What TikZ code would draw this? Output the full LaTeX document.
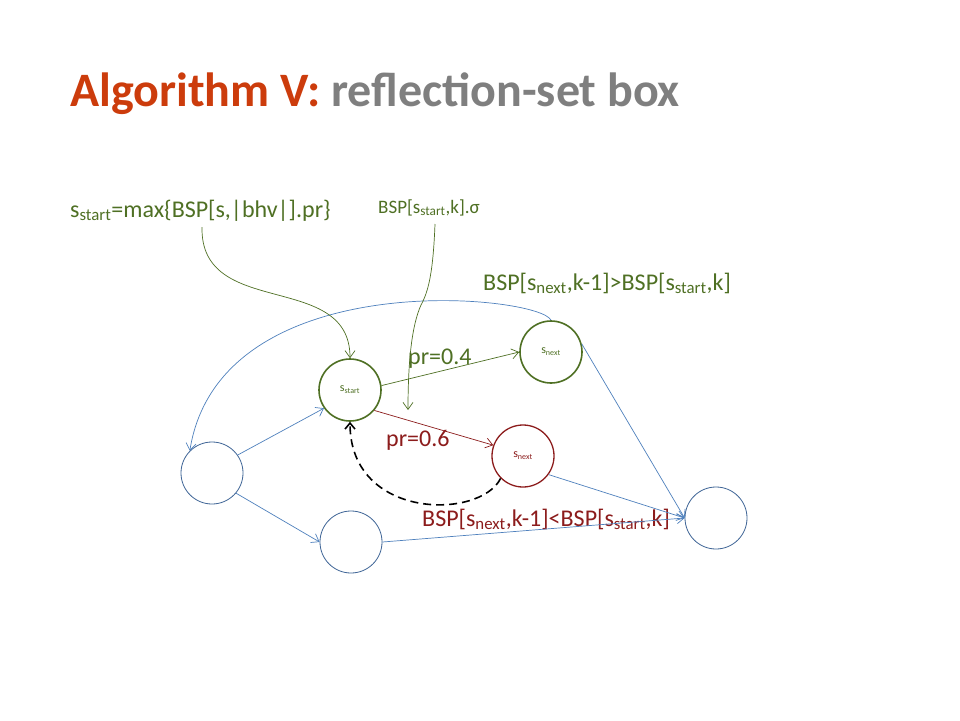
\documentclass[tikz,border=0pt]{standalone}
\usepackage{fontspec}
\setmainfont{Carlito}
\usetikzlibrary{arrows.meta}
\definecolor{ttlred}{RGB}{204,60,12}
\definecolor{ttlgray}{RGB}{127,127,127}
\definecolor{grn}{RGB}{79,112,36}
\definecolor{dred}{RGB}{140,28,28}
\definecolor{blu}{RGB}{79,129,189}
\definecolor{cblu}{RGB}{62,100,150}
\begin{document}
\begin{tikzpicture}[x=1pt,y=-1pt,
  st/.style={circle,draw,minimum size=62pt,inner sep=0pt,line width=0.8pt,font=\fontsize{12}{13}\selectfont},
  gst/.style={st,draw=grn,line width=1.6pt,text=grn},
  rst/.style={st,draw=dred,line width=1.3pt,text=dred},
  bst/.style={st,draw=cblu},
  arr/.style={-{Straight Barb[length=7pt,width=10pt]},line width=0.7pt},
  lbl/.style={inner sep=0pt,anchor=base west,font=\fontsize{24}{26}\selectfont}]
\useasboundingbox (0,0) rectangle (960,720);
\fill[white] (0,0) rectangle (960,720);
% title
\node[anchor=base west,inner sep=0pt,font=\fontsize{48}{52}\bfseries\selectfont] (title) at (70,106)
  {\textcolor{ttlred}{Algorithm V:} \textcolor{ttlgray}{reflection-set box}};
% nodes
\node[gst] (ss) at (350,390) {s\textsubscript{start}};
\node[gst] (sng) at (551,352) {s\textsubscript{next}};
\node[rst] (snr) at (523,456) {s\textsubscript{next}};
\node[bst] (bl) at (212,473) {};
\node[bst] (bb) at (351,542) {};
\node[bst] (br) at (716,518) {};
% labels
\node[lbl,text=grn] (lmax) at (70,217) {s\textsubscript{start}=max\{BSP[s,|bhv|].pr\}};
\node[lbl,text=grn,font=\fontsize{19}{21}\selectfont] (lsig) at (378,213) {BSP[s\textsubscript{start},k].σ};
\node[lbl,text=grn] (lgt) at (483,290) {BSP[s\textsubscript{next},k-1]>BSP[s\textsubscript{start},k]};
\node[lbl,text=dred] (llt) at (422,526) {BSP[s\textsubscript{next},k-1]<BSP[s\textsubscript{start},k]};
\node[lbl,text=grn] (p4) at (408,364) {pr=0.4};
\node[lbl,text=dred] (p6) at (386,446) {pr=0.6};
\coordinate (c1) at (202,227);
\coordinate (c2) at (435,224);
\coordinate (c3) at (408,410);
% blue edges
\draw[arr,blu] (bl.35) -- (ss.215);
\draw[arr,blu] (bl.-40) -- (bb.west);
\draw[arr,blu] (bb.east) -- (br.west);
\draw[arr,blu] (snr.-36) -- (br.west);
\draw[arr,blu] (sng.15) -- (br.west);
\draw[arr,blu] (sng.north) .. controls (540,295) and (220,262) .. (bl.north west);
% green / red edges
\draw[arr,grn] (ss.8) -- (sng.west);
\draw[arr,dred] (ss.-40) -- (snr.160);
\draw[arr,grn] (c1) .. controls (200,320) and (350,270) .. (ss.north);
\draw[arr,grn] (c2) .. controls (433,275) and (428,292) .. (421,305) .. controls (412,325) and (408,360) .. (c3);
\draw[-{Straight Barb[length=6pt,width=10pt]},line width=1.6pt,dash pattern=on 8pt off 5pt]
  (snr.south west) .. controls (480,520) and (350,520) .. (ss.south);
\end{tikzpicture}
\end{document}
